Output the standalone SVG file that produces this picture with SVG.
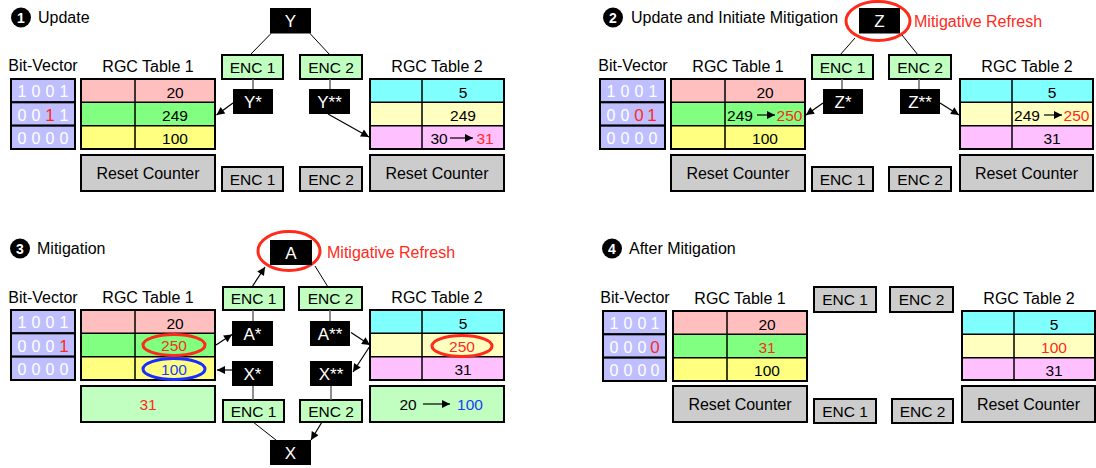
<svg xmlns="http://www.w3.org/2000/svg" width="1096" height="468" viewBox="0 0 1096 468">
<defs>
<marker id="ah" viewBox="0 0 10 10" refX="10" refY="5" markerWidth="10" markerHeight="8" markerUnits="userSpaceOnUse" orient="auto"><path d="M0,0 L10,5 L0,10 z" fill="#000"/></marker>
<style>
text{font-family:"Liberation Sans",Arial,Helvetica,sans-serif;fill:#000}
.lbl{font-size:16px;text-anchor:middle}
.ttl{font-size:16px}
.num{font-size:14px;font-weight:bold;fill:#fff;text-anchor:middle}
text.num{fill:#fff}
.bvr{fill:#bfbfff;stroke:#000;stroke-width:2}
.bvd{font-size:16px;fill:#fff;text-anchor:middle}
text.bvd{fill:#fff}
.frame{fill:none;stroke:#000;stroke-width:2}
.dv{stroke:#000;stroke-width:1.5}
.val{font-size:15.5px;text-anchor:middle}
text.red{fill:#ff2a1a}
text.blue{fill:#1a3cff}
.box{fill:#cccccc;stroke:#000;stroke-width:2}
.encg{fill:#c0ffc0;stroke:#000;stroke-width:2}
.encx{fill:#cccccc;stroke:#000;stroke-width:2}
.enct{font-size:15.5px;text-anchor:middle}
text.blkt{font-size:17px;fill:#fff;text-anchor:middle}
.ln{stroke:#000;stroke-width:1;fill:none}
.gl{stroke:#666;stroke-width:1.5}
.arr{stroke:#000;stroke-width:1.2;fill:none;marker-end:url(#ah)}
.ring{fill:none;stroke:#ff2a1a;stroke-width:3}
.ringb{fill:none;stroke:#1a2cff;stroke-width:3}
text.mr{font-size:16px;fill:#ff2a1a}
.r1{fill:#ffbfbf}.r2{fill:#80ff80}.r3{fill:#ffff80}
.s1{fill:#80ffff}.s2{fill:#ffffc0}.s3{fill:#ffc0ff}
</style>
</defs>
<rect width="1096" height="468" fill="#fff"/>

<!-- ================= PANEL 1 ================= -->
<g id="panel1">
  <g id="p1-title"><circle cx="21" cy="17.5" r="10"/><text class="num" x="21" y="22.5">1</text><text class="ttl" x="38" y="23">Update</text></g>
  <g id="p1-bitvector">
    <text class="lbl" x="43" y="71">Bit-Vector</text>
    <rect class="bvr" x="11" y="79" width="64" height="23.33"/>
    <rect class="bvr" x="11" y="102.33" width="64" height="23.33"/>
    <rect class="bvr" x="11" y="125.67" width="64" height="23.33"/>
    <text class="bvd" x="22" y="97">1</text><text class="bvd" x="36" y="97">0</text><text class="bvd" x="50" y="97">0</text><text class="bvd" x="64" y="97">1</text>
    <text class="bvd" x="22" y="120.5">0</text><text class="bvd" x="36" y="120.5">0</text><text class="bvd red" x="50" y="121" style="font-size:17px">1</text><text class="bvd" x="64" y="120.5">1</text>
    <text class="bvd" x="22" y="144">0</text><text class="bvd" x="36" y="144">0</text><text class="bvd" x="50" y="144">0</text><text class="bvd" x="64" y="144">0</text>
  </g>
  <g id="p1-table1">
    <text class="lbl" x="148" y="71.5">RGC Table 1</text>
    <rect class="r1" x="81" y="79" width="134" height="23.33"/><rect class="r2" x="81" y="102.33" width="134" height="23.33"/><rect class="r3" x="81" y="125.67" width="134" height="23.33"/>
    <line class="dv" x1="135" y1="79" x2="135" y2="149"/><line class="dv" x1="81" y1="102.33" x2="215" y2="102.33"/><line class="dv" x1="81" y1="125.67" x2="215" y2="125.67"/>
    <rect class="frame" x="81" y="79" width="134" height="70"/>
    <text class="val" x="175" y="97.5">20</text><text class="val" x="175" y="121">249</text><text class="val" x="175" y="144">100</text>
  </g>
  <g id="p1-reset1"><rect class="box" x="81" y="155" width="134" height="36"/><text class="lbl" x="148" y="179">Reset Counter</text></g>
  <g id="p1-y"><rect x="270" y="8" width="41" height="25.5"/><text class="blkt" x="290.5" y="27">Y</text></g>
  <g id="p1-enc1"><rect class="encg" x="222" y="55" width="61" height="24"/><text class="enct" x="252.5" y="72.5">ENC 1</text></g>
  <g id="p1-enc2"><rect class="encg" x="300" y="55" width="62" height="24"/><text class="enct" x="331" y="72.5">ENC 2</text></g>
  <g id="p1-ystar"><rect x="233" y="89" width="40" height="25"/><text class="blkt" x="253" y="107.5">Y*</text></g>
  <g id="p1-ystar2"><rect x="309" y="89" width="41" height="25"/><text class="blkt" x="329.5" y="107.5">Y**</text></g>
  <g id="p1-table2">
    <text class="lbl" x="437" y="71.5">RGC Table 2</text>
    <rect class="s1" x="370" y="79" width="134" height="23.33"/><rect class="s2" x="370" y="102.33" width="134" height="23.33"/><rect class="s3" x="370" y="125.67" width="134" height="23.33"/>
    <line class="dv" x1="422" y1="79" x2="422" y2="149"/><line class="dv" x1="370" y1="102.33" x2="504" y2="102.33"/><line class="dv" x1="370" y1="125.67" x2="504" y2="125.67"/>
    <rect class="frame" x="370" y="79" width="134" height="70"/>
    <text class="val" x="463" y="97.5">5</text><text class="val" x="463" y="121">249</text>
    <text class="val" x="439" y="144">30</text><line class="arr" x1="450" y1="138" x2="473" y2="138"/><text class="val red" x="485" y="144">31</text>
  </g>
  <g id="p1-reset2"><rect class="box" x="370" y="155" width="134" height="36"/><text class="lbl" x="437" y="179">Reset Counter</text></g>
  <g id="p1-enc1b"><rect class="encx" x="222" y="167" width="61" height="24"/><text class="enct" x="252.5" y="184.5">ENC 1</text></g>
  <g id="p1-enc2b"><rect class="encx" x="300" y="167" width="62" height="24"/><text class="enct" x="331" y="184.5">ENC 2</text></g>
  <g id="p1-connectors">
    <line class="ln" x1="271" y1="33.5" x2="250" y2="55"/>
    <line class="ln" x1="310" y1="33.5" x2="330" y2="55"/>
    <line class="gl" x1="253" y1="79" x2="253" y2="89"/>
    <line class="gl" x1="330" y1="79" x2="330" y2="89"/>
    <line class="arr" x1="233" y1="103" x2="216.5" y2="115"/>
    <line class="arr" x1="328" y1="114" x2="369" y2="137"/>
  </g>
</g>

<!-- ================= PANEL 2 ================= -->
<g id="panel2" transform="translate(590,0)">
  <g id="p2-title"><circle cx="23" cy="17.5" r="10"/><text class="num" x="23" y="22.5">2</text><text class="ttl" x="41" y="23">Update and Initiate Mitigation</text></g>
  <g id="p2-bitvector">
    <text class="lbl" x="43" y="71">Bit-Vector</text>
    <rect class="bvr" x="10" y="79" width="65" height="23.33"/>
    <rect class="bvr" x="10" y="102.33" width="65" height="23.33"/>
    <rect class="bvr" x="10" y="125.67" width="65" height="23.33"/>
    <text class="bvd" x="21" y="97">1</text><text class="bvd" x="35" y="97">0</text><text class="bvd" x="49" y="97">0</text><text class="bvd" x="63" y="97">1</text>
    <text class="bvd" x="21" y="120.5">0</text><text class="bvd" x="35" y="120.5">0</text><text class="bvd red" x="49" y="121" style="font-size:17px">0</text><text class="bvd red" x="62" y="121" style="font-size:17px">1</text>
    <text class="bvd" x="21" y="144">0</text><text class="bvd" x="35" y="144">0</text><text class="bvd" x="49" y="144">0</text><text class="bvd" x="63" y="144">0</text>
  </g>
  <g id="p2-table1">
    <text class="lbl" x="148" y="71.5">RGC Table 1</text>
    <rect class="r1" x="81" y="79" width="134" height="23.33"/><rect class="r2" x="81" y="102.33" width="134" height="23.33"/><rect class="r3" x="81" y="125.67" width="134" height="23.33"/>
    <line class="dv" x1="135" y1="79" x2="135" y2="149"/><line class="dv" x1="81" y1="102.33" x2="215" y2="102.33"/><line class="dv" x1="81" y1="125.67" x2="215" y2="125.67"/>
    <rect class="frame" x="81" y="79" width="134" height="70"/>
    <text class="val" x="175" y="97.5">20</text>
    <text class="val" x="150" y="121">249</text><line class="arr" x1="167" y1="115" x2="185" y2="115"/><text class="val red" x="199.5" y="121">250</text>
    <text class="val" x="175" y="144">100</text>
  </g>
  <g id="p2-reset1"><rect class="box" x="81" y="155" width="134" height="36"/><text class="lbl" x="148" y="179">Reset Counter</text></g>
  <g id="p2-z"><ellipse class="ring" cx="288" cy="21" rx="32" ry="19.5"/><rect x="269" y="8" width="41" height="25.5"/><text class="blkt" x="289.5" y="27">Z</text><text class="mr" x="324" y="27">Mitigative Refresh</text></g>
  <g id="p2-enc1"><rect class="encg" x="222" y="55" width="61" height="24"/><text class="enct" x="252.5" y="72.5">ENC 1</text></g>
  <g id="p2-enc2"><rect class="encg" x="299" y="55" width="62" height="24"/><text class="enct" x="330" y="72.5">ENC 2</text></g>
  <g id="p2-zstar"><rect x="233" y="89" width="40" height="25"/><text class="blkt" x="253" y="107.5">Z*</text></g>
  <g id="p2-zstar2"><rect x="310" y="89" width="40" height="25"/><text class="blkt" x="330" y="107.5">Z**</text></g>
  <g id="p2-table2">
    <text class="lbl" x="437" y="71.5">RGC Table 2</text>
    <rect class="s1" x="370" y="79" width="133" height="23.33"/><rect class="s2" x="370" y="102.33" width="133" height="23.33"/><rect class="s3" x="370" y="125.67" width="133" height="23.33"/>
    <line class="dv" x1="422" y1="79" x2="422" y2="149"/><line class="dv" x1="370" y1="102.33" x2="503" y2="102.33"/><line class="dv" x1="370" y1="125.67" x2="503" y2="125.67"/>
    <rect class="frame" x="370" y="79" width="133" height="70"/>
    <text class="val" x="462" y="97.5">5</text>
    <text class="val" x="437" y="121">249</text><line class="arr" x1="454" y1="115" x2="472" y2="115"/><text class="val red" x="486.5" y="121">250</text>
    <text class="val" x="462" y="144">31</text>
  </g>
  <g id="p2-reset2"><rect class="box" x="370" y="155" width="133" height="36"/><text class="lbl" x="436.5" y="179">Reset Counter</text></g>
  <g id="p2-enc1b"><rect class="encx" x="222" y="167" width="61" height="24"/><text class="enct" x="252.5" y="184.5">ENC 1</text></g>
  <g id="p2-enc2b"><rect class="encx" x="299" y="167" width="62" height="24"/><text class="enct" x="330" y="184.5">ENC 2</text></g>
  <g id="p2-connectors">
    <line class="ln" x1="265" y1="38" x2="250" y2="55"/>
    <line class="ln" x1="312" y1="35" x2="328" y2="55"/>
    <line class="gl" x1="252" y1="79" x2="252" y2="89"/>
    <line class="gl" x1="329" y1="79" x2="329" y2="89"/>
    <line class="arr" x1="233" y1="103" x2="216" y2="115"/>
    <line class="arr" x1="350" y1="103" x2="369" y2="115"/>
  </g>
</g>

<!-- ================= PANEL 3 ================= -->
<g id="panel3" transform="translate(0,231)">
  <g id="p3-title"><circle cx="20" cy="17.5" r="10"/><text class="num" x="20" y="22.5">3</text><text class="ttl" x="37" y="23">Mitigation</text></g>
  <g id="p3-bitvector">
    <text class="lbl" x="43" y="72">Bit-Vector</text>
    <rect class="bvr" x="11" y="79" width="64" height="23.33"/>
    <rect class="bvr" x="11" y="102.33" width="64" height="23.33"/>
    <rect class="bvr" x="11" y="125.67" width="64" height="23.33"/>
    <text class="bvd" x="22" y="97">1</text><text class="bvd" x="36" y="97">0</text><text class="bvd" x="50" y="97">0</text><text class="bvd" x="64" y="97">1</text>
    <text class="bvd" x="22" y="120.5">0</text><text class="bvd" x="36" y="120.5">0</text><text class="bvd" x="50" y="120.5">0</text><text class="bvd red" x="64" y="121" style="font-size:17px">1</text>
    <text class="bvd" x="22" y="144">0</text><text class="bvd" x="36" y="144">0</text><text class="bvd" x="50" y="144">0</text><text class="bvd" x="64" y="144">0</text>
  </g>
  <g id="p3-table1">
    <text class="lbl" x="148" y="72">RGC Table 1</text>
    <rect class="r1" x="81" y="79" width="134" height="23.33"/><rect class="r2" x="81" y="102.33" width="134" height="23.33"/><rect class="r3" x="81" y="125.67" width="134" height="23.33"/>
    <line class="dv" x1="135" y1="79" x2="135" y2="149"/><line class="dv" x1="81" y1="102.33" x2="215" y2="102.33"/><line class="dv" x1="81" y1="125.67" x2="215" y2="125.67"/>
    <rect class="frame" x="81" y="79" width="134" height="70"/>
    <text class="val" x="175" y="97.5">20</text>
    <ellipse class="ring" cx="174" cy="114" rx="31" ry="10.5"/><text class="val red" x="174" y="120">250</text>
    <ellipse class="ringb" cx="174" cy="138" rx="31" ry="10.5"/><text class="val blue" x="174" y="144">100</text>
  </g>
  <g id="p3-box1"><rect x="81" y="155" width="134" height="36" fill="#c0ffc0" stroke="#000" stroke-width="2"/><text class="val red" x="148" y="179">31</text></g>
  <g id="p3-a"><ellipse class="ring" cx="289" cy="20" rx="31" ry="19.5"/><rect x="270" y="9" width="42" height="25"/><text class="blkt" x="291" y="27.5">A</text><text class="mr" x="327" y="27">Mitigative Refresh</text></g>
  <g id="p3-enc1"><rect class="encg" x="223" y="56" width="61" height="23"/><text class="enct" x="253.5" y="73">ENC 1</text></g>
  <g id="p3-enc2"><rect class="encg" x="299" y="56" width="63" height="23"/><text class="enct" x="330.5" y="73">ENC 2</text></g>
  <g id="p3-astar"><rect x="232" y="90" width="41" height="25"/><text class="blkt" x="252.5" y="108.5">A*</text></g>
  <g id="p3-astar2"><rect x="310" y="90" width="40" height="25"/><text class="blkt" x="330" y="108.5">A**</text></g>
  <g id="p3-xstar"><rect x="232" y="130" width="41" height="25"/><text class="blkt" x="252.5" y="148.5">X*</text></g>
  <g id="p3-xstar2"><rect x="310" y="130" width="42" height="25"/><text class="blkt" x="331" y="148.5">X**</text></g>
  <g id="p3-enc1b"><rect class="encg" x="223" y="169" width="61" height="22"/><text class="enct" x="253.5" y="185.5">ENC 1</text></g>
  <g id="p3-enc2b"><rect class="encg" x="300" y="169" width="62" height="22"/><text class="enct" x="331" y="185.5">ENC 2</text></g>
  <g id="p3-x"><rect x="270" y="209" width="41" height="25"/><text class="blkt" x="290.5" y="227.5">X</text></g>
  <g id="p3-table2">
    <text class="lbl" x="437" y="72">RGC Table 2</text>
    <rect class="s1" x="370" y="79" width="134" height="23.33"/><rect class="s2" x="370" y="102.33" width="134" height="23.33"/><rect class="s3" x="370" y="125.67" width="134" height="23.33"/>
    <line class="dv" x1="422" y1="79" x2="422" y2="149"/><line class="dv" x1="370" y1="102.33" x2="504" y2="102.33"/><line class="dv" x1="370" y1="125.67" x2="504" y2="125.67"/>
    <rect class="frame" x="370" y="79" width="134" height="70"/>
    <text class="val" x="463" y="97.5">5</text>
    <ellipse class="ring" cx="462" cy="115" rx="30" ry="10.5"/><text class="val red" x="462" y="121">250</text>
    <text class="val" x="463" y="144">31</text>
  </g>
  <g id="p3-box2"><rect x="370" y="155" width="134" height="36" fill="#c0ffc0" stroke="#000" stroke-width="2"/><text class="val" x="408" y="179">20</text><line class="arr" x1="423" y1="173" x2="450" y2="173"/><text class="val blue" x="470" y="179">100</text></g>
  <g id="p3-connectors">
    <line class="arr" x1="252" y1="56" x2="265" y2="36"/>
    <line class="ln" x1="315" y1="35" x2="328" y2="56"/>
    <line class="gl" x1="253" y1="79" x2="253" y2="90"/>
    <line class="gl" x1="330" y1="79" x2="330" y2="90"/>
    <line class="arr" x1="216" y1="114" x2="232" y2="103.5"/>
    <line class="arr" x1="232" y1="139" x2="217" y2="139"/>
    <line class="arr" x1="351" y1="101.5" x2="370" y2="114"/>
    <line class="arr" x1="370" y1="115" x2="353" y2="141"/>
    <line class="gl" x1="253" y1="155" x2="253" y2="169"/>
    <line class="gl" x1="331" y1="155" x2="331" y2="169"/>
    <line class="ln" x1="253" y1="191" x2="276" y2="209"/>
    <line class="arr" x1="322" y1="191" x2="311" y2="209"/>
  </g>
</g>

<!-- ================= PANEL 4 ================= -->
<g id="panel4" transform="translate(592,232)">
  <g id="p4-title"><circle cx="20" cy="16.5" r="10"/><text class="num" x="20" y="21.5">4</text><text class="ttl" x="37" y="22">After Mitigation</text></g>
  <g id="p4-bitvector">
    <text class="lbl" x="43" y="71">Bit-Vector</text>
    <rect class="bvr" x="11" y="79" width="63" height="23.33"/>
    <rect class="bvr" x="11" y="102.33" width="63" height="23.33"/>
    <rect class="bvr" x="11" y="125.67" width="63" height="23.33"/>
    <text class="bvd" x="22" y="97">1</text><text class="bvd" x="36" y="97">0</text><text class="bvd" x="50" y="97">0</text><text class="bvd" x="63" y="97">1</text>
    <text class="bvd" x="22" y="120.5">0</text><text class="bvd" x="36" y="120.5">0</text><text class="bvd" x="50" y="120.5">0</text><text class="bvd red" x="63" y="121" style="font-size:17px">0</text>
    <text class="bvd" x="22" y="144">0</text><text class="bvd" x="36" y="144">0</text><text class="bvd" x="50" y="144">0</text><text class="bvd" x="63" y="144">0</text>
  </g>
  <g id="p4-table1">
    <text class="lbl" x="148" y="71.5">RGC Table 1</text>
    <rect class="r1" x="81" y="79" width="134" height="23.33"/><rect class="r2" x="81" y="102.33" width="134" height="23.33"/><rect class="r3" x="81" y="125.67" width="134" height="23.33"/>
    <line class="dv" x1="135" y1="79" x2="135" y2="149"/><line class="dv" x1="81" y1="102.33" x2="215" y2="102.33"/><line class="dv" x1="81" y1="125.67" x2="215" y2="125.67"/>
    <rect class="frame" x="81" y="79" width="134" height="70"/>
    <text class="val" x="175" y="97.5">20</text><text class="val red" x="175" y="121">31</text><text class="val" x="175" y="144">100</text>
  </g>
  <g id="p4-reset1"><rect class="box" x="81" y="154" width="134" height="36"/><text class="lbl" x="148" y="178">Reset Counter</text></g>
  <g id="p4-enc1"><rect class="encx" x="222" y="55" width="62" height="25"/><text class="enct" x="253" y="73">ENC 1</text></g>
  <g id="p4-enc2"><rect class="encx" x="298" y="55" width="63" height="25"/><text class="enct" x="329.5" y="73">ENC 2</text></g>
  <g id="p4-enc1b"><rect class="encx" x="222" y="167" width="62" height="24"/><text class="enct" x="253" y="184.5">ENC 1</text></g>
  <g id="p4-enc2b"><rect class="encx" x="300" y="167" width="61" height="24"/><text class="enct" x="330.5" y="184.5">ENC 2</text></g>
  <g id="p4-table2">
    <text class="lbl" x="437" y="71.5">RGC Table 2</text>
    <rect class="s1" x="370" y="79" width="133" height="23.33"/><rect class="s2" x="370" y="102.33" width="133" height="23.33"/><rect class="s3" x="370" y="125.67" width="133" height="23.33"/>
    <line class="dv" x1="422" y1="79" x2="422" y2="148"/><line class="dv" x1="370" y1="102.33" x2="503" y2="102.33"/><line class="dv" x1="370" y1="125.67" x2="503" y2="125.67"/>
    <rect class="frame" x="370" y="79" width="133" height="69"/>
    <text class="val" x="462" y="97.5">5</text><text class="val red" x="462" y="121">100</text><text class="val" x="462" y="144">31</text>
  </g>
  <g id="p4-reset2"><rect class="box" x="370" y="154" width="133" height="36"/><text class="lbl" x="436.5" y="178">Reset Counter</text></g>
</g>
</svg>
